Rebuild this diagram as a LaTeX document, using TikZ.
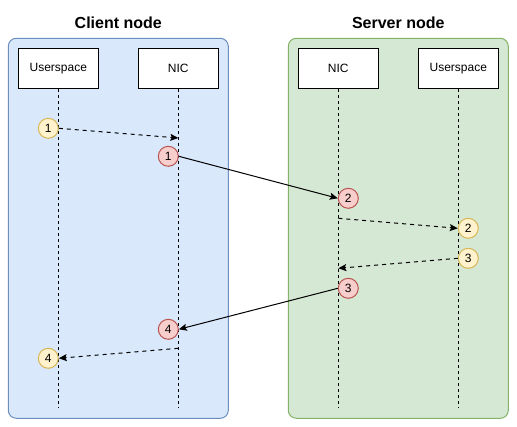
\documentclass[tikz,border=0pt]{standalone}
\usepackage{fontspec}
\setmainfont{Liberation Sans}
\usetikzlibrary{arrows.meta}
\definecolor{bluefill}{HTML}{DAE8FC}
\definecolor{bluedraw}{HTML}{6C8EBF}
\definecolor{greenfill}{HTML}{D5E8D4}
\definecolor{greendraw}{HTML}{82B366}
\definecolor{yelfill}{HTML}{FFF2CC}
\definecolor{yeldraw}{HTML}{D6B656}
\definecolor{redfill}{HTML}{F8CECC}
\definecolor{reddraw}{HTML}{B85450}
\tikzset{
  container/.style={draw, line width=1pt, rounded corners=8pt, minimum width=220pt, minimum height=380pt, inner sep=0pt, outer sep=0pt},
  title/.style={font=\fontsize{16}{19}\selectfont\bfseries},
  box/.style={draw, fill=white, line width=1pt, minimum width=80pt, minimum height=40pt, inner sep=0pt, font=\fontsize{12}{14}\selectfont},
  lifeline/.style={line width=1pt, dash pattern=on 3pt off 3pt},
  numcirc/.style={circle, draw, line width=1pt, minimum size=20pt, inner sep=0pt, font=\fontsize{12}{14}\selectfont},
  ycirc/.style={numcirc, fill=yelfill, draw=yeldraw},
  rcirc/.style={numcirc, fill=redfill, draw=reddraw},
  tip/.style={-{Stealth[length=8pt,width=7pt,inset=1.5pt]}},
  msg/.style={tip, line width=1pt},
  localmsg/.style={tip, line width=1pt, dash pattern=on 4pt off 4pt},
}
\begin{document}
\begin{tikzpicture}[x=1pt,y=-1pt]
\useasboundingbox (0,0) rectangle (517,427);
% containers
\node[container, fill=bluefill, draw=bluedraw] (client) at (118.3,228.3) {};
\node[container, fill=greenfill, draw=greendraw] (server) at (398.3,228.3) {};
\node[title] (clienttitle) at (118.3,22.5) {Client node};
\node[title] (servertitle) at (398.3,22.5) {Server node};
% lifeline ends
\coordinate (cuend) at (58.3,408.3);
\coordinate (cnend) at (178.3,408.3);
\coordinate (snend) at (338.3,408.3);
\coordinate (suend) at (458.3,408.3);
% boxes
\node[box] (cu) at (58.3,68.3) {Userspace};
\node[box] (cn) at (178.3,68.3) {NIC};
\node[box] (sn) at (338.3,68.3) {NIC};
\node[box] (su) at (458.3,68.3) {Userspace};
\draw[lifeline] (cu.south) -- (cuend);
\draw[lifeline] (cn.south) -- (cnend);
\draw[lifeline] (sn.south) -- (snend);
\draw[lifeline] (su.south) -- (suend);
% circles
\node[ycirc] (y1) at (48.3,128.3) {1};
\node[rcirc] (r1) at (168.3,156.3) {1};
\node[rcirc] (r2) at (348.3,198.3) {2};
\node[ycirc] (y2) at (468.3,228.3) {2};
\node[ycirc] (y3) at (468.3,258.3) {3};
\node[rcirc] (r3) at (348.3,288.3) {3};
\node[rcirc] (r4) at (168.3,329.3) {4};
\node[ycirc] (y4) at (48.3,358.3) {4};
% message anchor points on lifelines
\coordinate (p1) at (178.3,138);
\coordinate (p2) at (338.3,218.3);
\coordinate (p3) at (338.3,268.3);
\coordinate (p4) at (178.3,348.3);
% arrows
\draw[localmsg] (y1.east) -- (p1);
\draw[msg] (r1.east) -- (r2.west);
\draw[localmsg] (p2) -- (y2.west);
\draw[localmsg] (y3.west) -- (p3);
\draw[msg] (r3.west) -- (r4.east);
\draw[localmsg] (p4) -- (y4.east);
\end{tikzpicture}
\end{document}
